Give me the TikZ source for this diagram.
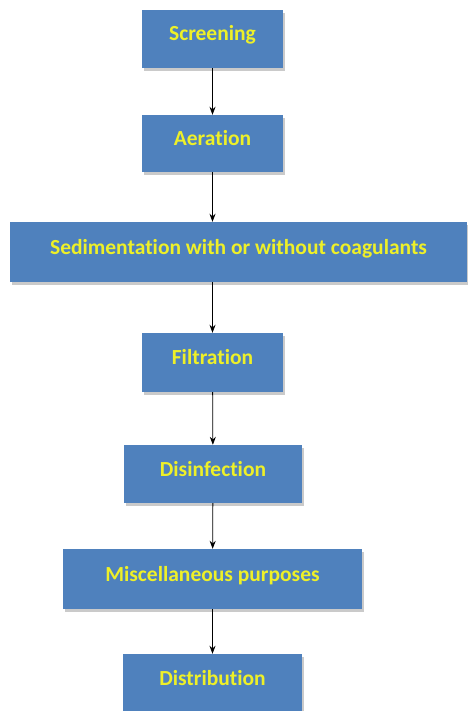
\documentclass[tikz,border=0pt]{standalone}
\usepackage{fontspec}
\setmainfont{Carlito}[Ligatures={NoCommon}]
\usepackage{tikz}
\usetikzlibrary{shadows,arrows.meta}
\definecolor{boxblue}{RGB}{79,129,189}
\definecolor{txtyellow}{RGB}{238,240,40}

\begin{document}
\begin{tikzpicture}[x=1pt,y=-1pt,
  stage/.style={rectangle,fill=boxblue,draw=none,inner sep=0pt,
    text=txtyellow,font=\fontsize{21.5}{24}\selectfont\bfseries,
    text height=16pt,text depth=12pt,
    drop shadow={shadow xshift=2pt,shadow yshift=-3pt,fill=black!35,opacity=0.6}},
  flow/.style={-{Stealth[length=8pt,width=6pt]},line width=0.8pt}]
\useasboundingbox (0,0) rectangle (467,711);
\node [stage,minimum width=141pt,minimum height=58pt] (scr) at (212.5,39) {Screening};
\node [stage,minimum width=141pt,minimum height=57pt] (aer) at (212.5,143.5) {Aeration};
\node [stage,minimum width=457pt,minimum height=60pt] (sed) at (238.5,252) {Sedimentation with or without coagulants};
\node [stage,minimum width=141pt,minimum height=59pt] (fil) at (212.5,362.5) {Filtration};
\node [stage,minimum width=178pt,minimum height=58pt] (dis) at (213,474) {Disinfection};
\node [stage,minimum width=299pt,minimum height=60pt] (misc) at (212.5,579) {Miscellaneous purposes};
\node [stage,minimum width=179pt,minimum height=58pt] (dist) at (212.5,683) {Distribution};
\draw [flow] (scr) -- (aer);
\draw [flow] (aer.south) -- (aer.south |- sed.north);
\draw [flow] (sed.south -| fil.north) -- (fil);
\draw [flow] (fil) -- (dis);
\draw [flow] (dis) -- (misc);
\draw [flow] (misc) -- (dist);
\end{tikzpicture}
\end{document}
